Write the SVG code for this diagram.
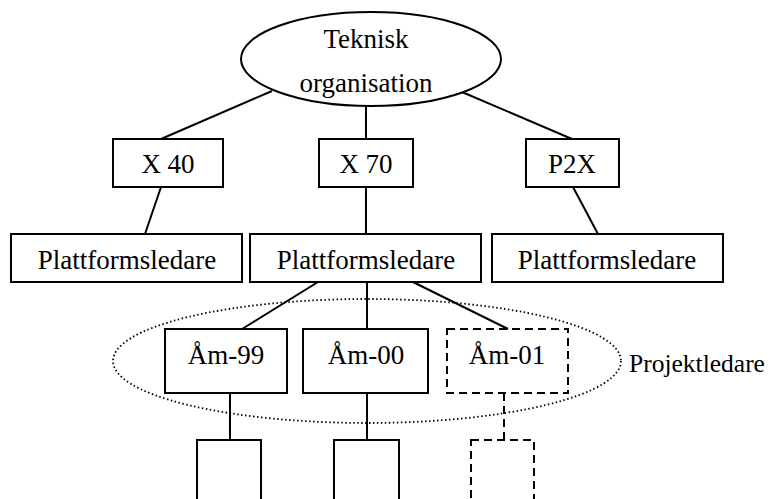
<svg xmlns="http://www.w3.org/2000/svg" width="773" height="499" viewBox="0 0 773 499">
<style>
.b{fill:#fff;stroke:#000;stroke-width:2}
.d{fill:none;stroke:#000;stroke-width:2;stroke-dasharray:8 5}
.c{fill:none;stroke:#000;stroke-width:2}
.t{font-family:"Liberation Serif","Times New Roman",serif;font-size:27px;fill:#000;text-anchor:middle}
</style>
<rect width="773" height="499" fill="#fff"/>
<g id="group-projektledare">
<ellipse cx="367" cy="361" rx="254" ry="62" fill="none" stroke="#000" stroke-width="1.8" stroke-dasharray="1.5 2.5"/>
<text class="t" x="629" y="372" style="text-anchor:start;font-size:25.5px">Projektledare</text>
</g>
<g id="connectors">
<line class="c" x1="272" y1="91" x2="161" y2="139"/>
<line class="c" x1="366" y1="106" x2="366" y2="139"/>
<line class="c" x1="462" y1="92" x2="572" y2="139"/>
<line class="c" x1="161" y1="187" x2="145" y2="234"/>
<line class="c" x1="366" y1="187" x2="366" y2="234"/>
<line class="c" x1="573" y1="187" x2="598" y2="234"/>
<line class="c" x1="318" y1="282" x2="242" y2="329"/>
<line class="c" x1="367" y1="282" x2="367" y2="329"/>
<line class="c" x1="413" y1="282" x2="508" y2="329"/>
<line class="c" x1="230" y1="393" x2="230" y2="440"/>
<line class="c" x1="367" y1="393" x2="367" y2="440"/>
<line class="d" x1="504" y1="393" x2="504" y2="440"/>
</g>
<g id="teknisk">
<ellipse class="b" cx="371" cy="59" rx="130" ry="47"/>
<text class="t" x="366" y="48">Teknisk</text>
<text class="t" x="366" y="92">organisation</text>
</g>
<g id="x40"><rect class="b" x="113" y="139" width="110" height="48"/><text class="t" x="168" y="173">X 40</text></g>
<g id="x70"><rect class="b" x="319" y="139" width="94" height="48"/><text class="t" x="366" y="173">X 70</text></g>
<g id="p2x"><rect class="b" x="526" y="139" width="93" height="48"/><text class="t" x="572" y="173">P2X</text></g>
<g id="pl1"><rect class="b" x="11" y="234" width="231" height="48"/><text class="t" x="127" y="269">Plattformsledare</text></g>
<g id="pl2"><rect class="b" x="250" y="234" width="231" height="48"/><text class="t" x="366" y="269">Plattformsledare</text></g>
<g id="pl3"><rect class="b" x="492" y="234" width="231" height="48"/><text class="t" x="607" y="269">Plattformsledare</text></g>
<g id="am99"><rect class="b" x="165" y="329" width="122" height="64"/><text class="t" x="226" y="364">Åm-99</text></g>
<g id="am00"><rect class="b" x="303" y="329" width="125" height="64"/><text class="t" x="366" y="364">Åm-00</text></g>
<g id="am01"><rect class="d" x="447" y="329" width="121" height="64"/><text class="t" x="507" y="364">Åm-01</text></g>
<g id="sub1"><rect class="b" x="197" y="440" width="64" height="70"/></g>
<g id="sub2"><rect class="b" x="334" y="440" width="65" height="70"/></g>
<g id="sub3"><rect class="d" x="471" y="440" width="63" height="70"/></g>
</svg>
